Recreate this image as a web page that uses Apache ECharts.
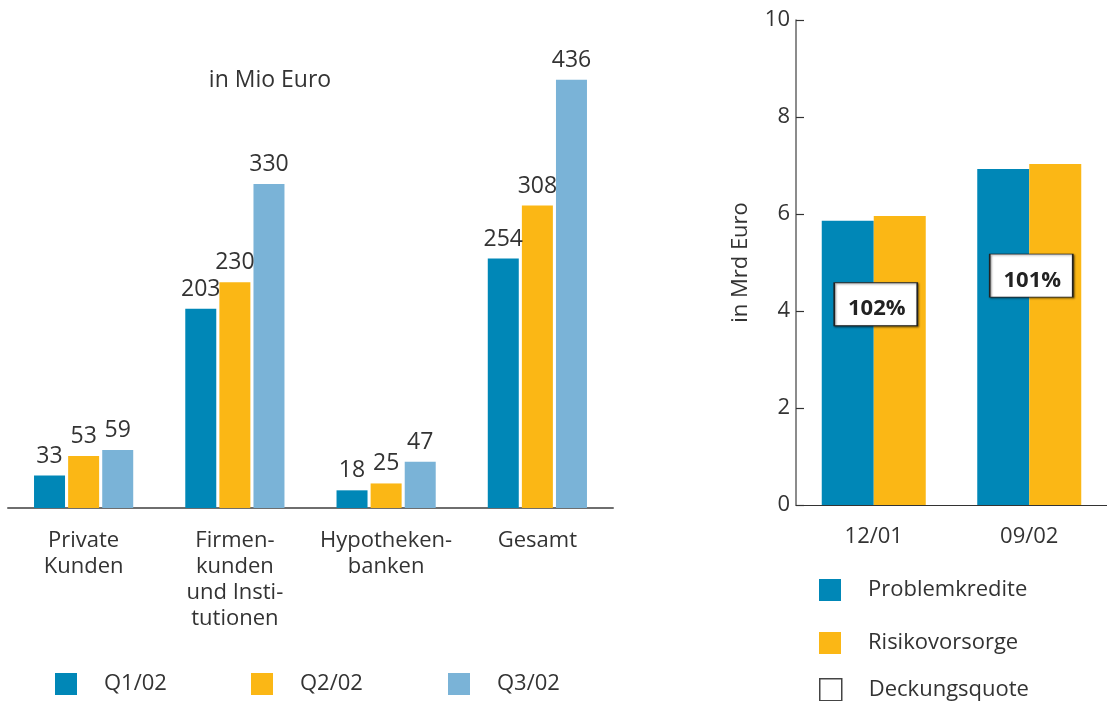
<!DOCTYPE html>
<html>
<head>
<meta charset="utf-8">
<script src="https://cdn.jsdelivr.net/npm/echarts@6/dist/echarts.min.js"></script>
<style>
html,body{margin:0;padding:0;background:#fff;}
#chart{width:1107px;height:701px;}
</style>
</head>
<body>
<div id="chart"></div>
<script>
// Left chart data (in Mio Euro)
var leftCategories = ['Private\nKunden', 'Firmen-\nkunden\nund Insti-\ntutionen', 'Hypotheken-\nbanken', 'Gesamt'];
var q1 = [33, 203, 18, 254];
var q2 = [53, 230, 25, 308];
var q3 = [59, 330, 47, 436];
var leftSeriesNames = ['Q1/02', 'Q2/02', 'Q3/02'];

// Right chart data (in Mrd Euro)
var rightCategories = ['12/01', '09/02'];
var rightSeriesNames = ['Problemkredite', 'Risikovorsorge', 'Deckungsquote'];
var problemkredite = [5.86, 6.93];
var risikovorsorge = [5.96, 7.03];
var coverage = [102, 101];
var coverageLabelLevel = [4.14, 4.73];

var BLUE = '#0087B7', YELLOW = '#FBB715', LIGHT = '#7AB3D7';
var FONT = 'Open Sans';
var FS = 22;
var TXT = '#333';

var chart = echarts.init(document.getElementById('chart'), null, {renderer: 'canvas'});

function leftBar(name, data, color) {
  return {
    name: name, type: 'bar', xAxisIndex: 0, yAxisIndex: 0,
    data: data, barWidth: 31, barGap: '10%',
    itemStyle: {color: color},
    label: {show: true, position: 'top', distance: 8, color: TXT, fontSize: 23, fontFamily: FONT},
    z: 2
  };
}

function legendItem(name, left, top, w, h, pad, extra) {
  return {
    left: left, top: top, padding: 0, itemWidth: w, itemHeight: h, icon: 'rect',
    data: [extra ? Object.assign({name: name}, extra) : name],
    textStyle: {fontSize: FS, color: TXT, fontFamily: FONT, padding: [0, 0, 0, pad]}
  };
}

var option = {
  backgroundColor: '#fff',
  animation: false,
  textStyle: {fontFamily: FONT},
  graphic: [{
    type: 'text', x: 270, y: 80,
    style: {text: 'in Mio Euro', fontSize: 23, fontFamily: FONT, fill: TXT,
      textAlign: 'center', textVerticalAlign: 'middle'}
  }],
  grid: [
    {left: 8, top: 17, width: 605, height: 491},
    {left: 796, top: 20, width: 311, height: 485}
  ],
  xAxis: [
    {
      type: 'category', gridIndex: 0, data: leftCategories,
      axisLine: {show: true, lineStyle: {color: '#555', width: 2, opacity: 0.85}},
      axisTick: {show: false},
      axisLabel: {margin: 20, fontSize: FS, lineHeight: 26, color: TXT, fontFamily: FONT, interval: 0}
    },
    {
      type: 'category', gridIndex: 1, data: rightCategories,
      axisLine: {show: true, lineStyle: {color: '#333', width: 1}},
      axisTick: {show: false},
      axisLabel: {margin: 19, fontSize: FS, lineHeight: 26, color: TXT, fontFamily: FONT}
    }
  ],
  yAxis: [
    {type: 'value', gridIndex: 0, min: 0, max: 500, show: false, splitLine: {show: false}},
    {
      type: 'value', gridIndex: 1, min: 0, max: 10, interval: 2,
      name: 'in Mrd Euro', nameLocation: 'middle', nameGap: 44, nameRotate: 90,
      nameTextStyle: {fontSize: FS, color: TXT, fontFamily: FONT},
      axisLine: {show: true, lineStyle: {color: '#666', width: 1.5}},
      axisTick: {show: true, inside: true, length: 8, lineStyle: {color: '#333', width: 1.2}},
      axisLabel: {margin: 6, fontSize: FS, color: TXT, fontFamily: FONT},
      splitLine: {show: false}
    }
  ],
  legend: [
    legendItem(leftSeriesNames[0], 55, 673, 22, 22, 22),
    legendItem(leftSeriesNames[1], 251, 673, 22, 22, 22),
    legendItem(leftSeriesNames[2], 448, 673, 22, 22, 22),
    legendItem(rightSeriesNames[0], 819, 579, 22, 22, 22),
    legendItem(rightSeriesNames[1], 819, 632, 22, 22, 22),
    legendItem(rightSeriesNames[2], 819, 678, 22, 22, 22,
      {itemStyle: {color: '#fff', borderColor: '#444', borderWidth: 1.5, shadowBlur: 0, shadowOffsetX: 0, shadowOffsetY: 0}})
  ],
  series: [
    leftBar(leftSeriesNames[0], q1, BLUE),
    leftBar(leftSeriesNames[1], q2, YELLOW),
    leftBar(leftSeriesNames[2], q3, LIGHT),
    {
      name: rightSeriesNames[0], type: 'bar', xAxisIndex: 1, yAxisIndex: 1,
      data: problemkredite, barWidth: 52, barGap: '0%', itemStyle: {color: BLUE}
    },
    {
      name: rightSeriesNames[1], type: 'bar', xAxisIndex: 1, yAxisIndex: 1,
      data: risikovorsorge, barWidth: 52, barGap: '0%', itemStyle: {color: YELLOW}
    },
    {
      name: rightSeriesNames[2], type: 'scatter', xAxisIndex: 1, yAxisIndex: 1,
      data: coverageLabelLevel, symbol: 'rect', symbolSize: [83, 43], symbolOffset: [2, 0],
      itemStyle: {color: '#fff', opacity: 1, borderColor: '#222', borderWidth: 1.2,
        shadowBlur: 2, shadowOffsetX: 1, shadowOffsetY: 1, shadowColor: 'rgba(0,0,0,0.45)'},
      label: {show: true, position: 'inside', offset: [1, 5], color: '#222', fontSize: 22,
        fontWeight: 'bold', fontFamily: FONT,
        formatter: function (p) { return coverage[p.dataIndex] + '%'; }},
      emphasis: {disabled: true},
      z: 5
    }
  ]
};
chart.setOption(option);
</script>
</body>
</html>
